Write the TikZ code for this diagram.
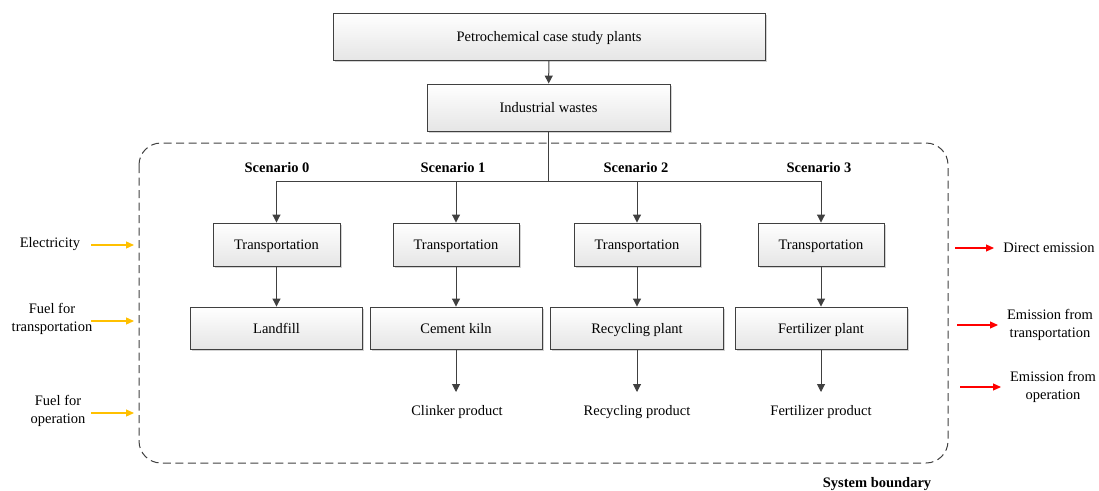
\documentclass[tikz,border=0pt]{standalone}
\usepackage{fontspec}
\setmainfont{Liberation Serif}
\usetikzlibrary{arrows.meta,shadows}
\definecolor{linegray}{HTML}{404040}
\definecolor{fuelorange}{HTML}{FFC000}
\definecolor{emitred}{HTML}{FF0000}
\begin{document}
\begin{tikzpicture}[x=1pt,y=-1pt,
  txt/.style={font=\fontsize{14.5}{18.5}\selectfont},
  box/.style={txt, draw=linegray, line width=0.9pt, top color=white, bottom color=gray!20,
    drop shadow={shadow xshift=1.5pt, shadow yshift=-1.5pt, opacity=0.35, fill=gray},
    inner sep=0pt, text depth=0pt},
  flow/.style={draw=linegray, line width=1pt, -{Triangle[length=8pt,width=8pt]}},
  plain/.style={draw=linegray, line width=1pt},
  lbl/.style={txt, align=center, inner sep=0pt},
  scen/.style={font=\bfseries\fontsize{14.5}{18}\selectfont, inner sep=0pt},
  fuel/.style={draw=fuelorange, line width=1.3pt, -{Triangle[length=8pt,width=7pt]}},
  emit/.style={draw=emitred, line width=1.1pt, -{Triangle[length=8pt,width=7pt]}}]
\useasboundingbox (0,0) rectangle (1099,490);

% system boundary
\draw[linegray, line width=1pt, dash pattern=on 8pt off 4.5pt, rounded corners=22pt]
  (139,143) rectangle (948,463);
\node[scen] (sysb) at (877,484) {System boundary};

% top chain
\node[box, minimum width=432pt, minimum height=47pt] (plants) at (549,36.5) {Petrochemical case study plants};
\node[box, minimum width=243pt, minimum height=47pt] (waste) at (548.5,107.5) {Industrial wastes};
\draw[flow] (plants) -- (waste);

% scenario labels
\node[scen] (s0) at (277,168) {Scenario 0};
\node[scen] (s1) at (453,168) {Scenario 1};
\node[scen] (s2) at (636,168) {Scenario 2};
\node[scen] (s3) at (819,168) {Scenario 3};

% transportation boxes
\node[box, minimum width=127pt, minimum height=43pt] (t0) at (276.5,244.5) {Transportation};
\node[box, minimum width=126pt, minimum height=43pt] (t1) at (456,244.5) {Transportation};
\node[box, minimum width=126pt, minimum height=43pt] (t2) at (637,244.5) {Transportation};
\node[box, minimum width=126pt, minimum height=43pt] (t3) at (821,244.5) {Transportation};

% treatment plants
\node[box, minimum width=172pt, minimum height=42pt] (p0) at (276.5,328) {Landfill};
\node[box, minimum width=172pt, minimum height=42pt] (p1) at (456,328) {Cement kiln};
\node[box, minimum width=173pt, minimum height=42pt] (p2) at (637,328) {Recycling plant};
\node[box, minimum width=172pt, minimum height=42pt] (p3) at (821,328) {Fertilizer plant};

% branching from industrial wastes
\coordinate (hub) at (548.5,181);
\draw[plain] (waste.south) -- (hub);
\draw[plain] (t0.north |- hub) -- (t3.north |- hub);
\foreach \i in {0,1,2,3} {
  \draw[flow] (t\i.north |- hub) -- (t\i.north);
  \draw[flow] (t\i) -- (p\i);
}

% products
\coordinate (e) at (0,392);
\node[lbl] (c1) at (457,412) {Clinker product};
\node[lbl] (c2) at (637,412) {Recycling product};
\node[lbl] (c3) at (821,412) {Fertilizer product};
\draw[flow] (p1.south) -- (p1.south |- e);
\draw[flow] (p2.south) -- (p2.south |- e);
\draw[flow] (p3.south) -- (p3.south |- e);

% inputs
\node[lbl] (in1) at (50,244) {Electricity};
\node[lbl] (in2) at (52,319) {Fuel for\\transportation};
\node[lbl] (in3) at (58,411) {Fuel for\\operation};
\coordinate (a1) at (134,245);
\coordinate (a2) at (134,321);
\coordinate (a3) at (134,413);
\draw[fuel] (91,245) -- (a1);
\draw[fuel] (91,321) -- (a2);
\draw[fuel] (91,413) -- (a3);

% outputs
\node[lbl] (o1) at (1049,248) {Direct emission};
\node[lbl] (o2) at (1050,325) {Emission from\\transportation};
\node[lbl] (o3) at (1053,387) {Emission from\\operation};
\coordinate (b1) at (955,248);
\coordinate (b2) at (957,325);
\coordinate (b3) at (960,387);
\draw[emit] (b1) -- (994,248);
\draw[emit] (b2) -- (998,325);
\draw[emit] (b3) -- (1001,387);
\end{tikzpicture}
\end{document}
